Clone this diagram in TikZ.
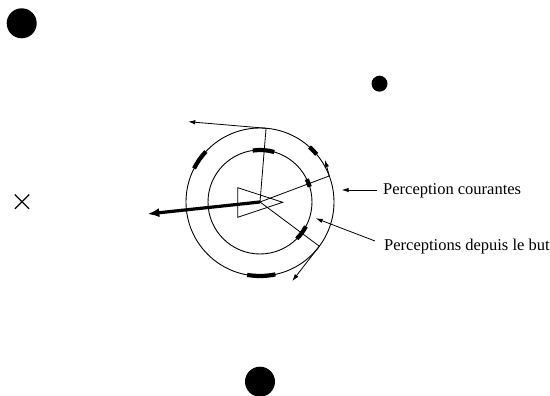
\documentclass[tikz,border=0pt]{standalone}
\usepackage{fontspec}
\setmainfont{Liberation Serif}
\usepackage{tikz}
\usetikzlibrary{arrows.meta, shapes.misc, calc}
\tikzset{
  ring/.style={draw, line width=0.9pt},
  ray/.style={draw, line width=0.8pt},
  sector/.style={draw, line width=4.2pt},
  thin arrow/.style={draw, line width=0.8pt, -{Latex[length=7pt,width=4.5pt]}},
  big arrow/.style={draw, line width=3.2pt, -{Latex[length=12pt,width=9pt]}},
  obstacle/.style={circle, fill, inner sep=0pt},
  label text/.style={font=\fontsize{16.5}{18}\selectfont, anchor=base west, inner sep=0pt},
}

\begin{document}
\begin{tikzpicture}[x=1pt, y=1pt]
  \useasboundingbox (0,0) rectangle (550,396);

  % Obstacles and goal
  \node[obstacle, minimum size=30pt] (dotA) at (21.7,372.7) {};
  \node[obstacle, minimum size=16pt] (dotB) at (379.5,312.3) {};
  \node[obstacle, minimum size=30pt] (dotC) at (260,14.3) {};
  \node[cross out, draw, line width=1.2pt, minimum size=13pt, inner sep=0pt] (goal) at (22,194.3) {};

  % Agent
  \coordinate (c) at (260,194);
  \draw[ring] (c) circle (52);
  \draw[ring] (c) circle (74);
  \draw[ray] ($(c)+(-22.3,14.3)$) -- ($(c)+(-22.3,-15.3)$) -- ($(c)+(22.7,-0.3)$) -- cycle;

  % Perceptions on the circles
  \foreach \a/\b in {74/98, 17/26, -45/-28} {
    \draw[sector] ([shift={(c)}]\a:52) arc (\a:\b:52);
  }
  \foreach \a/\b in {137/153, 40/48, -100/-78} {
    \draw[sector] ([shift={(c)}]\a:74) arc (\a:\b:74);
  }

  % Rays and directions
  \coordinate (pTop) at ([shift={(c)}]85.3:74);
  \coordinate (pRight) at ([shift={(c)}]20.6:74);
  \coordinate (pLow) at ([shift={(c)}]-36.7:74);
  \coordinate (tTop) at (188.3,274.3);
  \coordinate (tRight) at (325,236);
  \coordinate (tLow) at (292.3,115);
  \coordinate (tMove) at (147.3,182);
  \foreach \p in {pTop, pRight, pLow} {
    \draw[ray] (c) -- (\p);
  }
  \draw[thin arrow] (pTop) -- (tTop);
  \draw[thin arrow] (pRight) -- (tRight);
  \draw[thin arrow] (pLow) -- (tLow);
  \draw[big arrow] (c) -- (tMove);

  % Labels
  \node[label text] (lblCur) at (383,201) {Perception courantes};
  \node[label text] (lblBut) at (384,145) {Perceptions depuis le but};
  \coordinate (aCur) at (341.7,206);
  \coordinate (aBut) at (315.7,177.7);
  \draw[thin arrow] ([xshift=-6pt,yshift=5pt]lblCur.base west) -- (aCur);
  \draw[thin arrow] ([xshift=-9pt,yshift=10pt]lblBut.base west) -- (aBut);
\end{tikzpicture}
\end{document}
